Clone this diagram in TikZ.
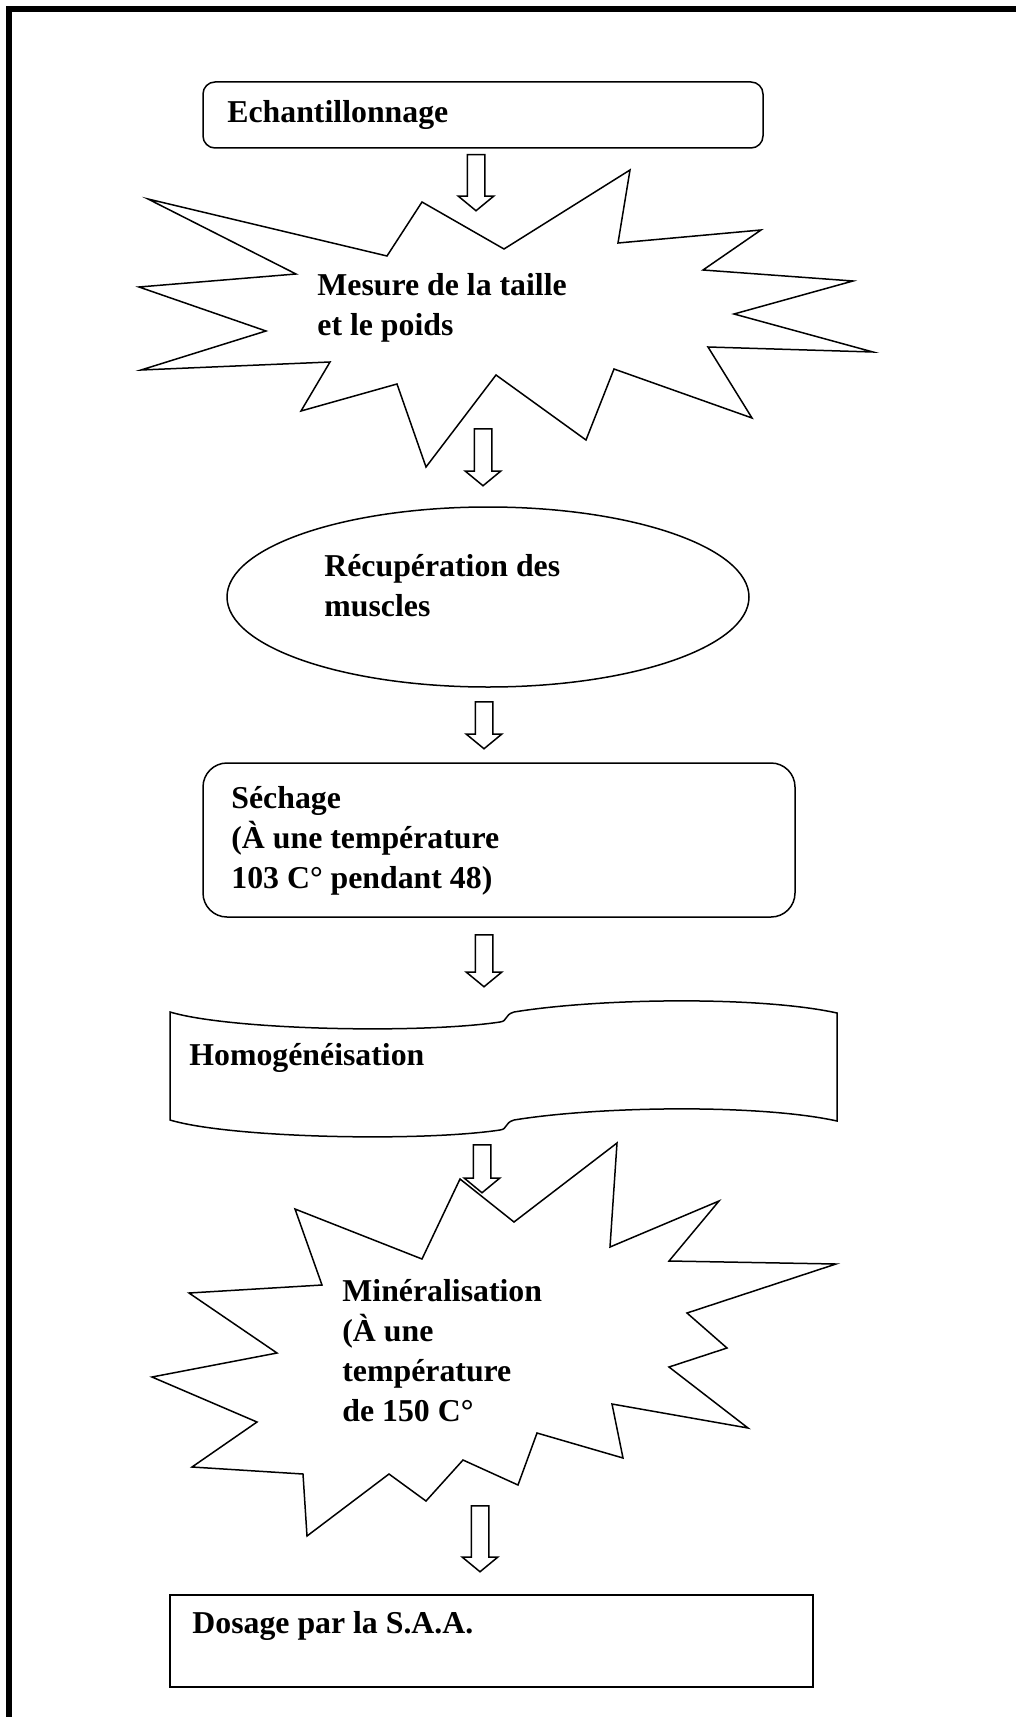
\documentclass[tikz,border=0pt]{standalone}
\usepackage{fontspec}
\setmainfont{Liberation Serif}
\usetikzlibrary{shapes.geometric,shapes.arrows}
\begin{document}
\begin{tikzpicture}
		[	x=0.5pt, y=-0.5pt,
		box/.style={rectangle, draw=black, line width=0.75pt, fill=white},
		roundbox/.style={box, rounded corners=6pt},
		blob/.style={draw=black, line width=0.75pt, fill=white},
		txt/.style={anchor=west, align=left, inner sep=0pt, font=\bfseries\fontsize{15.9}{20}\selectfont},
		downarrow/.style={single arrow, draw=black, line width=0.75pt, fill=white, shape border rotate=270, inner sep=4pt, single arrow head extend=4.5pt, single arrow tip angle=101, anchor=tail}
		]
		\useasboundingbox (0,0) rectangle (1016,1717);
		\draw[line width=3pt] (9,1717) -- (9,9) -- (1016,9);
		% boxes
		\node[roundbox, minimum width=280pt, minimum height=33pt] (echant) at (483,115) {};
		\node[ellipse, draw=black, line width=0.75pt, minimum width=261pt, minimum height=90pt] (recup) at (488,597) {};
		\node[roundbox, rounded corners=12pt, minimum width=296pt, minimum height=77pt] (sechage) at (499,840) {};
		\node[box, minimum width=321.5pt, minimum height=46pt] (dosage) at (491.5,1641) {};
		% stars
		\draw[blob] (148,199) -- (387,256) -- (422,202) -- (504,249) -- (630,170) -- (618,243) -- (761,230) -- (703,270) -- (853,281) -- (734,314) -- (873,352) -- (708,347) -- (752,418) -- (614,369) -- (586,440) -- (496,375) -- (426,467) -- (397,384) -- (301,411) -- (330,362) -- (141,370) -- (266,331) -- (139,287) -- (296,274) -- cycle;
		\draw[blob] (460,1179) -- (514,1222) -- (617,1143) -- (610,1247) -- (719,1201) -- (669,1261) -- (836,1264) -- (687,1313) -- (727,1348) -- (669,1367) -- (748,1428) -- (612,1404) -- (623,1458) -- (537,1433) -- (518,1485) -- (463,1460) -- (426,1501) -- (389,1474) -- (307,1536) -- (303,1474) -- (192,1467) -- (257,1422) -- (152,1377) -- (277,1353) -- (189,1293) -- (322,1285) -- (295,1209) -- (422,1259) -- cycle;
		% tape
		\draw[blob] (170,1012) .. controls (230,1030) and (420,1034) .. (500,1022) .. controls (508,1021) and (504,1015) .. (514,1012) .. controls (600,998) and (760,996) .. (837,1013) -- (837,1121) .. controls (760,1104) and (600,1106) .. (514,1120) .. controls (504,1123) and (508,1129) .. (500,1130) .. controls (420,1142) and (230,1138) .. (170,1120) -- cycle;
		% texts
		\node[txt] (techant) at (227,115) {Echantillonnage};
		\node[txt] (tmesure) at (317,308) {Mesure de la taille\\et le poids};
		\node[txt] (trecup) at (324,586) {Récupération des\\muscles};
		\node[txt] (tsechage) at (231,841) {Séchage\\(À une température\\103 C° pendant 48)};
		\node[txt] (thomog) at (189,1058) {Homogénéisation};
		\node[txt] (tminer) at (342,1351) {Minéralisation\\(À une\\température\\de 150 C°};
		\node[txt] (tdosage) at (192,1626) {Dosage par la S.A.A.};
		% arrows
		\node[downarrow, minimum height=28pt] (arr1) at (476,154) {};
		\node[downarrow, minimum height=28.5pt] (arr2) at (483,428) {};
		\node[downarrow, minimum height=23.5pt] (arr3) at (484,701) {};
		\node[downarrow, minimum height=26pt] (arr4) at (484,934) {};
		\node[downarrow, minimum height=24pt] (arr5) at (482,1144) {};
		\node[downarrow, minimum height=33pt] (arr6) at (480,1505) {};
	\end{tikzpicture}
\end{document}
